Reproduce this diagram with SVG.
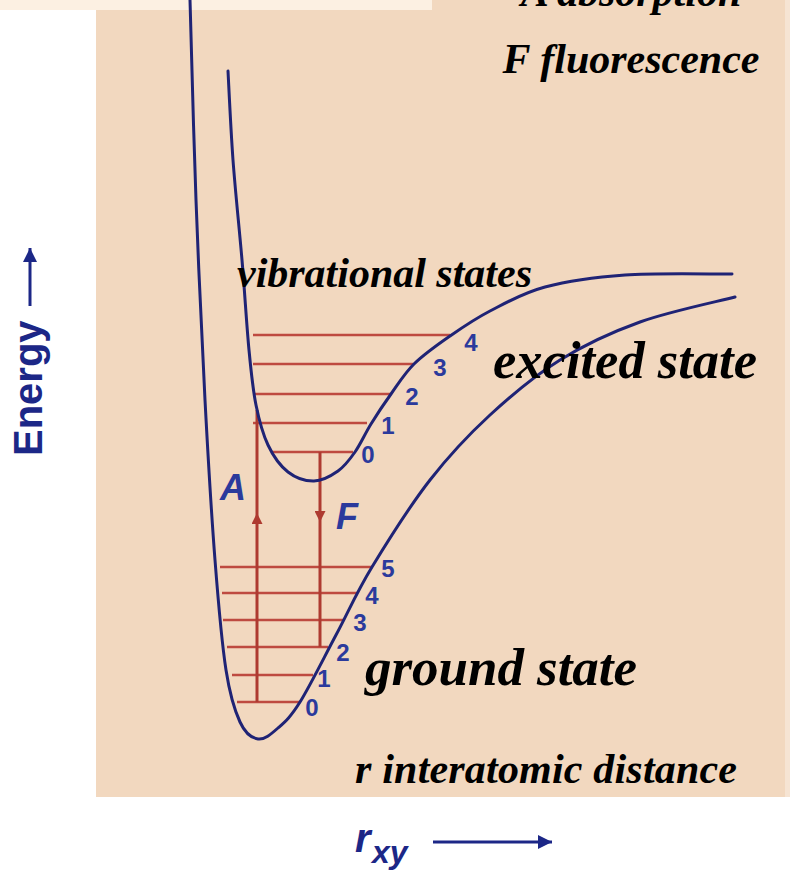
<svg xmlns="http://www.w3.org/2000/svg" width="790" height="870" viewBox="0 0 790 870">
  <style>
    .serif { font-family: "Liberation Serif", "Times New Roman", serif; font-weight: bold; font-style: italic; fill: #000; }
    .curve { fill: none; stroke: #1F2375; stroke-width: 3; stroke-linecap: round; }
    .level { stroke: #BE4A40; stroke-width: 2.5; }
    .trans { fill: none; stroke: #AE3A30; stroke-width: 3; }
    .num { font-family: "Liberation Sans", Arial, sans-serif; font-weight: bold; font-size: 24px; fill: #2B3A9C; text-anchor: middle; }
    .lab { font-family: "Liberation Sans", Arial, sans-serif; font-weight: bold; font-style: italic; font-size: 36px; fill: #2B3A9C; }
    .axis { font-family: "Liberation Sans", Arial, sans-serif; font-weight: bold; fill: #1C2787; }
    .axisline { stroke: #1C2787; stroke-width: 3; fill: none; }
  </style>
  <defs>
    <marker id="redHead" viewBox="0 0 10 10" refX="10" refY="5" markerUnits="userSpaceOnUse" markerWidth="14" markerHeight="11" orient="auto">
      <path d="M0,0 L10,5 L0,10 z" fill="#AE3A30"/>
    </marker>
    <marker id="blueHead" viewBox="0 0 10 10" refX="10" refY="5" markerUnits="userSpaceOnUse" markerWidth="20" markerHeight="14" orient="auto">
      <path d="M0,0 L10,5 L0,10 z" fill="#1C2787"/>
    </marker>
  </defs>

  <rect x="0" y="0" width="790" height="870" fill="#FFFFFF"/>
  <rect x="96" y="0" width="689" height="797" fill="#F2D8BF"/>
  <rect x="785" y="0" width="5" height="797" fill="#F6E4D3"/>
  <rect x="0" y="0" width="432" height="10" fill="#FCF0E2"/>

  <g id="title">
    <text class="serif" x="631" y="6" font-size="42" text-anchor="middle">A absorption</text>
    <text class="serif" x="631" y="73" font-size="42" text-anchor="middle">F fluorescence</text>
  </g>

  <g id="excited-levels">
    <line class="level" x1="253" y1="335" x2="450" y2="335"/>
    <line class="level" x1="253" y1="364" x2="413" y2="364"/>
    <line class="level" x1="253" y1="394" x2="390" y2="394"/>
    <line class="level" x1="253" y1="423" x2="367" y2="423"/>
    <line class="level" x1="272" y1="452" x2="353" y2="452"/>
  </g>
  <g id="ground-levels">
    <line class="level" x1="220" y1="567" x2="372" y2="567"/>
    <line class="level" x1="222" y1="593" x2="357" y2="593"/>
    <line class="level" x1="223" y1="620" x2="343" y2="620"/>
    <line class="level" x1="227" y1="647" x2="328" y2="647"/>
    <line class="level" x1="232" y1="675" x2="313" y2="675"/>
    <line class="level" x1="237" y1="702" x2="300" y2="702"/>
  </g>

  <g id="connectors">
    <path id="absorption" class="trans" d="M257,702 L257,513 L257,410" marker-mid="url(#redHead)"/>
    <path id="fluorescence" class="trans" d="M320,452 L320,522 L320,647" marker-mid="url(#redHead)"/>
  </g>

  <g id="ground-state">
    <path class="curve" d="M190,0 C191,33.3 193.5,133.3 196,200 C198.5,266.7 201.8,340 205,400 C208.2,460 211.5,515 215,560 C218.5,605 221.8,643 226,670 C230.2,697 234.7,710.5 240,722 C245.3,733.5 251.7,738 258,739 C264.3,740 271,734.2 278,728 C285,721.8 290.3,717.5 300,702 C309.7,686.5 324,657.5 336,635 C348,612.5 356.3,592.8 372,567 C387.7,541.2 410.3,505.3 430,480 C449.7,454.7 468.3,435 490,415 C511.7,395 535,375.5 560,360 C585,344.5 610.8,332.5 640,322 C669.2,311.5 719.2,301.2 735,297"/>
  </g>
  <g id="excited-state">
    <path class="curve" d="M228,71 C228.8,85.8 230.7,128.5 233,160 C235.3,191.5 239.3,228.3 242,260 C244.7,291.7 246.7,325.8 249,350 C251.3,374.2 252.8,389.2 256,405 C259.2,420.8 262.7,433.8 268,445 C273.3,456.2 280.3,466 288,472 C295.7,478 305.7,481.2 314,481 C322.3,480.8 331.2,475.8 338,471 C344.8,466.2 349.5,459.8 355,452 C360.5,444.2 365,433.7 371,424 C377,414.3 383.8,404 391,394 C398.2,384 404.2,373.7 414,364 C423.8,354.3 437.3,344.8 450,336 C462.7,327.2 474.2,319.2 490,311 C505.8,302.8 522.5,293 545,287 C567.5,281 593.8,277.2 625,275 C656.2,272.8 714.2,274.2 732,274"/>
  </g>

  <g id="excited-numbers">
    <text class="num" x="368" y="463">0</text>
    <text class="num" x="388" y="434">1</text>
    <text class="num" x="412" y="405">2</text>
    <text class="num" x="440" y="376">3</text>
    <text class="num" x="471" y="351">4</text>
  </g>
  <g id="ground-numbers">
    <text class="num" x="312" y="716">0</text>
    <text class="num" x="324" y="687">1</text>
    <text class="num" x="343" y="661">2</text>
    <text class="num" x="360" y="631">3</text>
    <text class="num" x="372" y="604">4</text>
    <text class="num" x="388" y="577">5</text>
  </g>

  <g id="transition-labels">
    <text class="lab" x="220" y="500">A</text>
    <text class="lab" x="336" y="529">F</text>
  </g>

  <g id="labels">
    <text class="serif" x="237" y="287" font-size="42" textLength="295">vibrational states</text>
    <text class="serif" x="493" y="378" font-size="52.5" textLength="264">excited state</text>
    <text class="serif" x="365" y="685" font-size="53" textLength="272">ground state</text>
    <text class="serif" x="355" y="783" font-size="42" textLength="382">r interatomic distance</text>
  </g>

  <g id="energy-axis">
    <text class="axis" transform="translate(42,456) rotate(-90)" font-size="40">Energy</text>
    <line class="axisline" x1="30" y1="306" x2="30" y2="248" marker-end="url(#blueHead)"/>
  </g>
  <g id="r-axis">
    <text class="axis" x="355" y="852" font-size="40" font-style="italic">r</text>
    <text class="axis" x="372" y="863" font-size="32" font-style="italic">xy</text>
    <line class="axisline" x1="433" y1="842" x2="552" y2="842" marker-end="url(#blueHead)"/>
  </g>
</svg>
